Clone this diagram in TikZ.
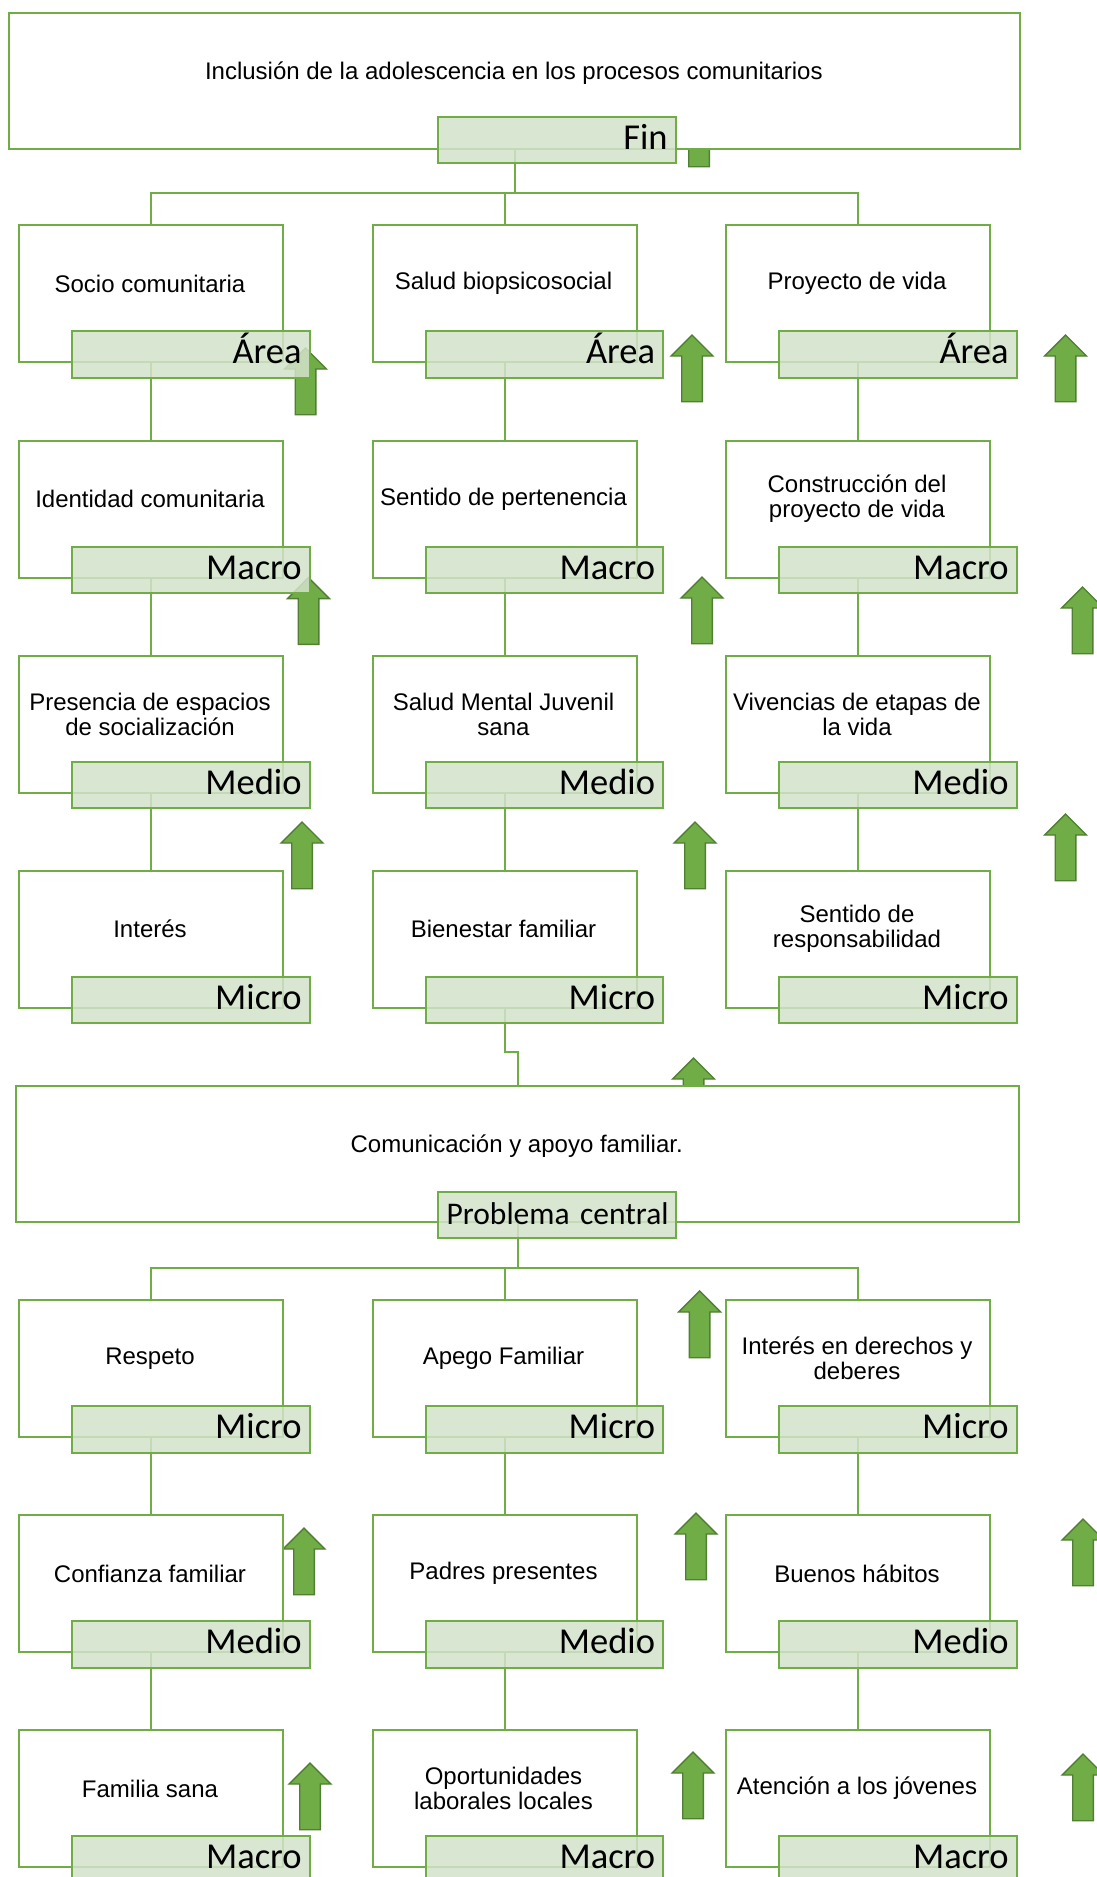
\documentclass[tikz,border=0pt]{standalone}
\usepackage{fontspec}
\setmainfont{Liberation Sans}
\newfontfamily\labfont{Carlito}
\definecolor{gline}{HTML}{70AD47}
\definecolor{gdark}{HTML}{507E32}
\definecolor{gfill}{HTML}{D3E2CA}
\pgfdeclarelayer{bg}
\pgfsetlayers{bg,main}
\tikzset{
  box/.style={draw=gline, line width=2pt, fill=white, minimum width=264pt, minimum height=137pt, anchor=north west, inner sep=0pt},
  bigbox/.style={draw=gline, line width=2pt, fill=white, anchor=north west, inner sep=0pt},
  txt/.style={font=\fontsize{24}{25}\selectfont, align=center, anchor=center, inner sep=0pt},
  lab/.style={draw=gline, line width=2.2pt, fill=gfill, fill opacity=0.85, text opacity=1, draw opacity=1,
    minimum width=237.5pt, minimum height=46.5pt, anchor=north west, inner xsep=8pt, inner ysep=0pt,
    font=\labfont\fontsize{36.5}{40}\selectfont, text height=19pt, text depth=0pt, text width=221.5pt, align=right},
  conn/.style={draw=gline, line width=2pt},
  uparrow/.pic={\draw[draw=gdark, fill=gline, line width=1.4pt, line join=miter]
    (0,0) -- (21,21) -- (10.3,21) -- (10.3,66.7) -- (-10.3,66.7) -- (-10.3,21) -- (-21,21) -- cycle;}
}
\newcommand{\cellbox}[5]{%
  \node[box] (#1) at (#2,#3) {};
  \node[txt] (#1t) at (#2+132,#3+59.5) {#4};
  \node[lab] (#1l) at (#2+53,#3+106) {#5};
}
\begin{document}
\begin{tikzpicture}[x=1pt,y=-1pt]
\clip (0,0) rectangle (1097,1877);
\begin{pgfonlayer}{bg}
\fill[white] (0,0) rectangle (1097,1877);
\end{pgfonlayer}
% arrows
\pic at (699,100) {uparrow};
\pic at (305.5,348) {uparrow};
\pic at (692,335) {uparrow};
\pic at (1065.5,335) {uparrow};
\pic at (308.5,577.6) {uparrow};
\pic at (702,577) {uparrow};
\pic at (1082.5,587) {uparrow};
\pic at (302,822) {uparrow};
\pic at (695,822) {uparrow};
\pic at (1065.5,814) {uparrow};
\pic at (693.5,1058) {uparrow};
\pic at (699.6,1291) {uparrow};
\pic at (304,1528) {uparrow};
\pic at (696,1513) {uparrow};
\pic at (1083,1519) {uparrow};
\pic at (310,1763) {uparrow};
\pic at (693,1752) {uparrow};
\pic at (1083,1754) {uparrow};
% top box
\node[bigbox, minimum width=1010.9pt, minimum height=136.3pt] (topbox) at (8.4,12) {};
\node[txt] (topt) at (513.85,73) {Inclusión de la adolescencia en los procesos comunitarios};
\node[lab] (fin) at (437,115.7) {Fin};
% upper cells
\cellbox{u11}{18}{224}{Socio comunitaria}{Área}
\cellbox{u21}{371.5}{224}{Salud biopsicosocial}{Área}
\cellbox{u31}{725}{224}{Proyecto de vida}{Área}
\cellbox{u12}{18}{439.5}{Identidad comunitaria}{Macro}
\cellbox{u22}{371.5}{439.5}{Sentido de pertenencia}{Macro}
\cellbox{u32}{725}{439.5}{Construcción del\\proyecto de vida}{Macro}
\cellbox{u13}{18}{654.5}{Presencia de espacios\\de socialización}{Medio}
\cellbox{u23}{371.5}{654.5}{Salud Mental Juvenil\\sana}{Medio}
\cellbox{u33}{725}{654.5}{Vivencias de etapas de\\la vida}{Medio}
\cellbox{u14}{18}{869.5}{Interés}{Micro}
\cellbox{u24}{371.5}{869.5}{Bienestar familiar}{Micro}
\cellbox{u34}{725}{869.5}{Sentido de\\responsabilidad}{Micro}
% central box
\node[bigbox, minimum width=1002.6pt, minimum height=136pt] (centbox) at (15.4,1085) {};
\node[txt] (centt) at (516.7,1146) {Comunicación y apoyo familiar.};
\node[lab, inner xsep=7pt, text width=223.5pt, font=\labfont\fontsize{31.5}{34}\selectfont] (prob) at (437,1190.7) {Problema central};
% lower cells
\cellbox{l11}{18}{1299}{Respeto}{Micro}
\cellbox{l21}{371.5}{1299}{Apego Familiar}{Micro}
\cellbox{l31}{725}{1299}{Interés en derechos y\\deberes}{Micro}
\cellbox{l12}{18}{1514}{Confianza familiar}{Medio}
\cellbox{l22}{371.5}{1514}{Padres presentes}{Medio}
\cellbox{l32}{725}{1514}{Buenos hábitos}{Medio}
\cellbox{l13}{18}{1729}{Familia sana}{Macro}
\cellbox{l23}{371.5}{1729}{Oportunidades\\laborales locales}{Macro}
\cellbox{l33}{725}{1729}{Atención a los jóvenes}{Macro}
% connectors
\coordinate (h1) at (0,193);
\coordinate (h2) at (0,1268);
\coordinate (h3) at (0,1052);
\begin{pgfonlayer}{bg}
\draw[conn] (topbox.south) -- (topbox.south |- h1);
\draw[conn] (u11.north) -- (u11.north |- h1) -- (u31.north |- h1) -- (u31.north);
\draw[conn] (u21.north) -- (u21.north |- h1);
\foreach \c in {1,2,3}{
  \draw[conn] (u\c1.south) -- (u\c2.north);
  \draw[conn] (u\c2.south) -- (u\c3.north);
  \draw[conn] (u\c3.south) -- (u\c4.north);
  \draw[conn] (l\c1.south) -- (l\c2.north);
  \draw[conn] (l\c2.south) -- (l\c3.north);
}
\draw[conn] (u24.south) -- (u24.south |- h3) -| (centbox.north);
\draw[conn] (centbox.south) -- (centbox.south |- h2);
\draw[conn] (l11.north) -- (l11.north |- h2) -- (l31.north |- h2) -- (l31.north);
\draw[conn] (l21.north) -- (l21.north |- h2);
\end{pgfonlayer}
\end{tikzpicture}
\end{document}
